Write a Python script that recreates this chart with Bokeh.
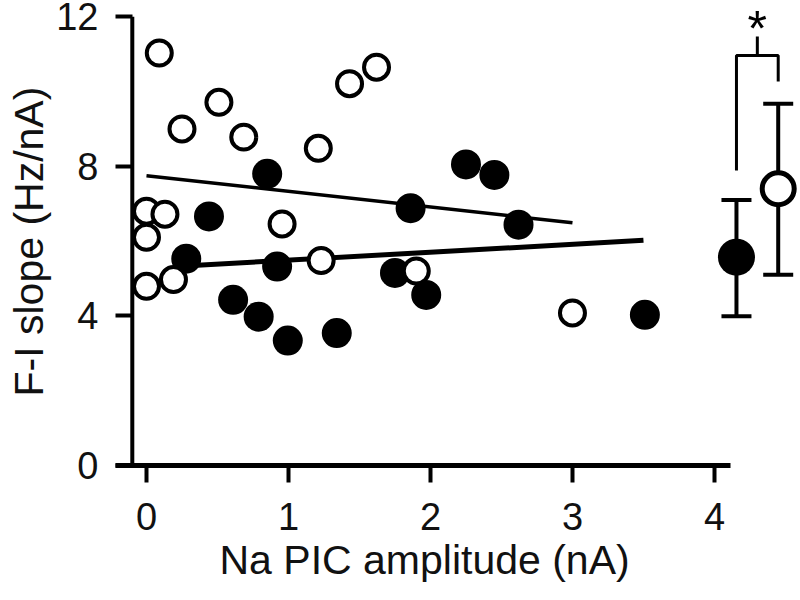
from bokeh.plotting import figure
from bokeh.models import FixedTicker, Range1d, Label, Whisker, ColumnDataSource, TeeHead, Title
from bokeh.embed import file_html
from bokeh.resources import INLINE

# ---- data ----
filled_x = [0.85, 0.44, 0.28, 0.92, 0.61, 0.79, 0.995, 1.34, 1.75, 2.25, 2.45, 1.86, 2.62, 1.97, 3.51]
filled_y = [7.80, 6.66, 5.53, 5.32, 4.43, 3.98, 3.34, 3.54, 5.15, 8.05, 7.77, 6.88, 6.44, 4.56, 4.03]

open_x = [0.09, 0.51, 0.25, 0.685, 1.21, 1.43, 1.62, 0.0, 0.13, 0.0, 0.955, 0.0, 0.19, 1.23, 1.90, 3.0]
open_y = [11.03, 9.71, 9.00, 8.78, 8.48, 10.21, 10.65, 6.80, 6.72, 6.10, 6.46, 4.79, 4.97, 5.48, 5.20, 4.08]

# regression lines (end points)
fit_open_x = [0.0, 3.0]
fit_open_y = [7.75, 6.49]
fit_filled_x = [0.2, 3.5]
fit_filled_y = [5.32, 6.02]

# summary (mean +/- error)
summary_means = [5.57, 7.40]
summary_lower = [3.99, 5.10]
summary_upper = [7.10, 9.67]

x_ticks = [0, 1, 2, 3, 4]
y_ticks = [0, 4, 8, 12]

# ---- layout constants ----
FONT = "Liberation Sans"
summary_x = [4.155, 4.449]
y_spine_x = -0.1
bracket_left_start = 7.89
bracket_right_start = 10.27
bracket_top = 10.96
bracket_stub_top = 11.47
Y_TOP = 12.433

p = figure(width=800, height=600, output_backend="svg", toolbar_location=None,
           x_range=Range1d(-0.2183, 4.606), y_range=Range1d(0, Y_TOP),
           min_border_left=115, min_border_right=0, min_border_top=0,
           min_border_bottom=135)
p.outline_line_color = None
p.grid.visible = False
p.background_fill_color = "white"
p.border_fill_color = "white"

# y axis: ticks pointing into the frame, spine drawn separately
yax = p.yaxis[0]
yax.ticker = FixedTicker(ticks=y_ticks, minor_ticks=[])
yax.axis_line_color = None
yax.major_tick_in = 17
yax.major_tick_out = 0
yax.major_tick_line_width = 4
yax.major_tick_line_color = "black"
yax.minor_tick_line_color = None
yax.major_label_text_font = FONT
yax.major_label_text_font_size = "38px"
yax.major_label_text_color = "#111111"
yax.major_label_standoff = 17

xax = p.xaxis[0]
xax.ticker = FixedTicker(ticks=x_ticks, minor_ticks=[])
xax.bounds = (-0.2183, 4.11)
xax.axis_line_width = 5
xax.axis_line_color = "black"
xax.major_tick_in = 0
xax.major_tick_out = 17
xax.major_tick_line_width = 4
xax.major_tick_line_color = "black"
xax.minor_tick_line_color = None
xax.major_label_text_font = FONT
xax.major_label_text_font_size = "38px"
xax.major_label_text_color = "#111111"
xax.major_label_standoff = 20

# axis titles
p.add_layout(Title(text="F-I slope (Hz/nA)", align="left", offset=69, standoff=4,
                   text_font=FONT, text_font_size="41px", text_font_style="normal",
                   text_color="#111111"), "left")
p.add_layout(Title(text="Na PIC amplitude (nA)", align="left", offset=104, standoff=4,
                   text_font=FONT, text_font_size="41px", text_font_style="normal",
                   text_color="#111111"), "below")

# y spine
p.segment(x0=[y_spine_x], y0=[y_ticks[0]], x1=[y_spine_x], y1=[y_ticks[-1]],
          line_width=4, line_color="black")

# regression lines
p.line(fit_open_x, fit_open_y, line_width=3.5, line_color="black")
p.line(fit_filled_x, fit_filled_y, line_width=5, line_color="black")

# scatter points
p.scatter(filled_x, filled_y, size=30, fill_color="black", line_color=None)
p.scatter(open_x, open_y, size=25, fill_color="white", line_color="black", line_width=4)

# summary error bars
err_src = ColumnDataSource(dict(base=summary_x, lower=summary_lower, upper=summary_upper))
p.add_layout(Whisker(source=err_src, base="base", lower="lower", upper="upper",
                     dimension="height", line_width=4, line_color="black",
                     upper_head=TeeHead(size=30, line_width=4, line_color="black"),
                     lower_head=TeeHead(size=30, line_width=4, line_color="black")))
p.scatter([summary_x[0]], [summary_means[0]], size=37, fill_color="black", line_color=None)
p.scatter([summary_x[1]], [summary_means[1]], size=32, fill_color="white",
          line_color="black", line_width=5)

# significance bracket
mid_x = (summary_x[0] + summary_x[1]) / 2
p.line([summary_x[0], summary_x[0], summary_x[1], summary_x[1]],
       [bracket_left_start, bracket_top, bracket_top, bracket_right_start],
       line_width=3, line_color="black")
p.line([mid_x, mid_x], [bracket_top, bracket_stub_top], line_width=3, line_color="black")
p.add_layout(Label(x=mid_x, y=Y_TOP, text="*", text_align="center", text_baseline="top",
                   text_font=FONT, text_font_size="50px", text_color="black"))

open("out.html", "w").write(file_html(p, INLINE))
